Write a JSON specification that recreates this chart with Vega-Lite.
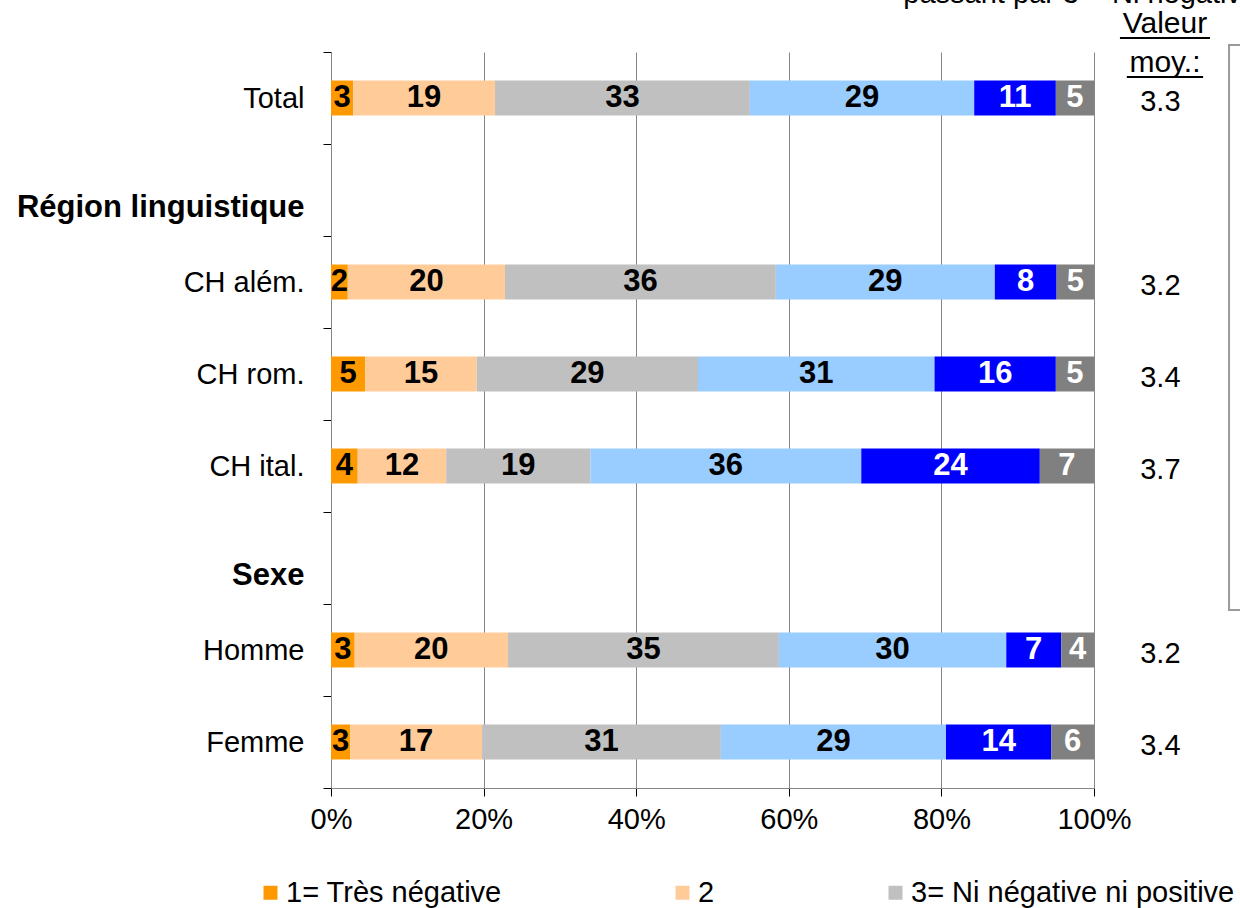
{
  "$schema": "https://vega.github.io/schema/vega-lite/v6.json",
  "width": 763,
  "height": 736,
  "autosize": {"type": "none"},
  "padding": {"left": 331, "top": 52, "right": 146, "bottom": 120},
  "background": "white",
  "config": {
    "font": "Liberation Sans",
    "view": {"stroke": null}
  },
  "datasets": {
    "bars": [
      {"group": "Total", "k": 1, "cat": "1= Très négative", "value": 2.9, "pct": 3},
      {"group": "Total", "k": 2, "cat": "2", "value": 18.6, "pct": 19},
      {"group": "Total", "k": 3, "cat": "3= Ni négative ni positive", "value": 33.4, "pct": 33},
      {"group": "Total", "k": 4, "cat": "4", "value": 29.4, "pct": 29},
      {"group": "Total", "k": 5, "cat": "5= Très positive", "value": 10.7, "pct": 11},
      {"group": "Total", "k": 6, "cat": "Ne sait pas / pas de réponse", "value": 5.0, "pct": 5},
      {"group": "CH além.", "k": 1, "cat": "1= Très négative", "value": 2.2, "pct": 2},
      {"group": "CH além.", "k": 2, "cat": "2", "value": 20.6, "pct": 20},
      {"group": "CH além.", "k": 3, "cat": "3= Ni négative ni positive", "value": 35.5, "pct": 36},
      {"group": "CH além.", "k": 4, "cat": "4", "value": 28.7, "pct": 29},
      {"group": "CH além.", "k": 5, "cat": "5= Très positive", "value": 8.1, "pct": 8},
      {"group": "CH além.", "k": 6, "cat": "Ne sait pas / pas de réponse", "value": 4.9, "pct": 5},
      {"group": "CH rom.", "k": 1, "cat": "1= Très négative", "value": 4.5, "pct": 5},
      {"group": "CH rom.", "k": 2, "cat": "2", "value": 14.6, "pct": 15},
      {"group": "CH rom.", "k": 3, "cat": "3= Ni négative ni positive", "value": 29.0, "pct": 29},
      {"group": "CH rom.", "k": 4, "cat": "4", "value": 31.0, "pct": 31},
      {"group": "CH rom.", "k": 5, "cat": "5= Très positive", "value": 15.9, "pct": 16},
      {"group": "CH rom.", "k": 6, "cat": "Ne sait pas / pas de réponse", "value": 5.0, "pct": 5},
      {"group": "CH ital.", "k": 1, "cat": "1= Très négative", "value": 3.5, "pct": 4},
      {"group": "CH ital.", "k": 2, "cat": "2", "value": 11.6, "pct": 12},
      {"group": "CH ital.", "k": 3, "cat": "3= Ni négative ni positive", "value": 18.9, "pct": 19},
      {"group": "CH ital.", "k": 4, "cat": "4", "value": 35.5, "pct": 36},
      {"group": "CH ital.", "k": 5, "cat": "5= Très positive", "value": 23.4, "pct": 24},
      {"group": "CH ital.", "k": 6, "cat": "Ne sait pas / pas de réponse", "value": 7.1, "pct": 7},
      {"group": "Homme", "k": 1, "cat": "1= Très négative", "value": 3.1, "pct": 3},
      {"group": "Homme", "k": 2, "cat": "2", "value": 20.1, "pct": 20},
      {"group": "Homme", "k": 3, "cat": "3= Ni négative ni positive", "value": 35.5, "pct": 35},
      {"group": "Homme", "k": 4, "cat": "4", "value": 29.8, "pct": 30},
      {"group": "Homme", "k": 5, "cat": "5= Très positive", "value": 7.2, "pct": 7},
      {"group": "Homme", "k": 6, "cat": "Ne sait pas / pas de réponse", "value": 4.3, "pct": 4},
      {"group": "Femme", "k": 1, "cat": "1= Très négative", "value": 2.5, "pct": 3},
      {"group": "Femme", "k": 2, "cat": "2", "value": 17.3, "pct": 17},
      {"group": "Femme", "k": 3, "cat": "3= Ni négative ni positive", "value": 31.3, "pct": 31},
      {"group": "Femme", "k": 4, "cat": "4", "value": 29.5, "pct": 29},
      {"group": "Femme", "k": 5, "cat": "5= Très positive", "value": 13.8, "pct": 14},
      {"group": "Femme", "k": 6, "cat": "Ne sait pas / pas de réponse", "value": 5.6, "pct": 6}
    ],
    "means": [
      {"group": "Total", "mean": 3.3},
      {"group": "CH além.", "mean": 3.2},
      {"group": "CH rom.", "mean": 3.4},
      {"group": "CH ital.", "mean": 3.7},
      {"group": "Homme", "mean": 3.2},
      {"group": "Femme", "mean": 3.4}
    ]
  },
  "layer": [
    {
      "data": {"name": "bars"},
      "transform": [
        {"stack": "value", "groupby": ["group"], "sort": [{"field": "k", "order": "ascending"}], "as": ["x0", "x1"]}
      ],
      "mark": {"type": "bar", "height": {"band": 0.38}},
      "encoding": {
        "y": {
          "field": "group",
          "type": "nominal",
          "scale": {
            "domain": ["Total", "Région linguistique", "CH além.", "CH rom.", "CH ital.", "Sexe", "Homme", "Femme"],
            "paddingInner": 0,
            "paddingOuter": 0
          },
          "axis": {
            "title": null,
            "tickBand": "extent",
            "tickSize": 8,
            "tickColor": "#000000",
            "domainColor": "#868686",
            "labelPadding": 19,
            "labelColor": "black",
            "labelLimit": 400,
            "labelFontSize": {"condition": {"test": "datum.value === 'Région linguistique' || datum.value === 'Sexe'", "value": 31}, "value": 29},
            "labelFontWeight": {"condition": {"test": "datum.value === 'Région linguistique' || datum.value === 'Sexe'", "value": "bold"}, "value": "normal"},
            "labelOffset": {"condition": {"test": "datum.value === 'Région linguistique' || datum.value === 'Sexe'", "value": 17}, "value": 0},
            "grid": false
          }
        },
        "x": {
          "field": "x0",
          "type": "quantitative",
          "scale": {"domain": [0, 100]},
          "axis": {
            "title": null,
            "values": [0, 20, 40, 60, 80, 100],
            "labelExpr": "datum.value + '%'",
            "grid": true,
            "gridColor": "#868686",
            "tickSize": 8,
            "tickColor": "#000000",
            "domainColor": "#868686",
            "labelFontSize": 29,
            "labelColor": "black",
            "labelPadding": 9,
            "labelFlush": false
          }
        },
        "x2": {"field": "x1"},
        "color": {
          "field": "cat",
          "type": "nominal",
          "scale": {
            "domain": ["1= Très négative", "2", "3= Ni négative ni positive", "4", "5= Très positive", "Ne sait pas / pas de réponse"],
            "range": ["#FF9900", "#FFCC99", "#C0C0C0", "#99CCFF", "#0000FF", "#808080"]
          },
          "legend": {
            "orient": "none",
            "legendX": -75,
            "legendY": 826,
            "direction": "horizontal",
            "title": null,
            "values": ["1= Très négative", "2", "3= Ni négative ni positive"],
            "symbolType": "square",
            "symbolSize": 196,
            "symbolStrokeWidth": 0,
            "labelFontSize": 29,
            "labelOffset": 1,
            "labelLimit": 500,
            "labelColor": "black",
            "columnPadding": 166,
            "padding": 0
          }
        }
      }
    },
    {
      "data": {"name": "bars"},
      "transform": [
        {"stack": "value", "groupby": ["group"], "sort": [{"field": "k", "order": "ascending"}], "as": ["x0", "x1"]},
        {"fold": ["x0", "x1"], "as": ["edge", "pos"]},
        {"aggregate": [{"op": "mean", "field": "pos", "as": "xm"}], "groupby": ["group", "k", "pct"]}
      ],
      "mark": {"type": "text", "fontSize": 31, "fontWeight": "bold", "baseline": "middle", "align": "center"},
      "encoding": {
        "y": {"field": "group", "type": "nominal"},
        "x": {"field": "xm", "type": "quantitative"},
        "text": {"field": "pct", "type": "quantitative"},
        "color": {"condition": {"test": "datum.k >= 5", "value": "white"}, "value": "black"}
      }
    },
    {
      "data": {"name": "means"},
      "mark": {"type": "text", "fontSize": 29, "baseline": "middle", "align": "center", "dy": 4, "color": "black"},
      "encoding": {
        "y": {"field": "group", "type": "nominal"},
        "x": {"datum": 108.7, "type": "quantitative"},
        "text": {"field": "mean", "type": "quantitative", "format": ".1f"}
      }
    },
    {
      "data": {"values": [{}]},
      "mark": {"type": "text", "text": "Valeur", "fontSize": 30, "baseline": "alphabetic", "align": "center", "dy": -65, "color": "black"},
      "encoding": {
        "x": {"datum": 109.3, "type": "quantitative"},
        "y": {"datum": "Total", "type": "nominal"}
      }
    },
    {
      "data": {"values": [{}]},
      "mark": {"type": "text", "text": "moy.:", "fontSize": 30, "baseline": "alphabetic", "align": "center", "dy": -26, "color": "black"},
      "encoding": {
        "x": {"datum": 109.3, "type": "quantitative"},
        "y": {"datum": "Total", "type": "nominal"}
      }
    },
    {
      "data": {"values": [{}]},
      "mark": {"type": "rule", "color": "black", "strokeWidth": 2, "yOffset": -60},
      "encoding": {
        "x": {"datum": 103.4, "type": "quantitative"},
        "x2": {"datum": 115.2},
        "y": {"datum": "Total", "type": "nominal"}
      }
    },
    {
      "data": {"values": [{}]},
      "mark": {"type": "rule", "color": "black", "strokeWidth": 2, "yOffset": -21},
      "encoding": {
        "x": {"datum": 104.3, "type": "quantitative"},
        "x2": {"datum": 114.3},
        "y": {"datum": "Total", "type": "nominal"}
      }
    },
    {
      "data": {"values": [{}]},
      "mark": {"type": "rect", "fill": null, "stroke": "#9a9a9a", "strokeWidth": 2, "yOffset": -53, "y2Offset": -40},
      "encoding": {
        "x": {"datum": 117.7, "type": "quantitative"},
        "x2": {"datum": 125},
        "y": {"datum": "Total", "type": "nominal"},
        "y2": {"datum": "Homme"}
      }
    },
    {
      "data": {"values": [{}]},
      "mark": {"type": "text", "text": "passant par 3 = Ni négative ni positive", "fontSize": 29, "baseline": "alphabetic", "align": "left", "dy": -95, "color": "black"},
      "encoding": {
        "x": {"datum": 75, "type": "quantitative"},
        "y": {"datum": "Total", "type": "nominal"}
      }
    }
  ]
}
